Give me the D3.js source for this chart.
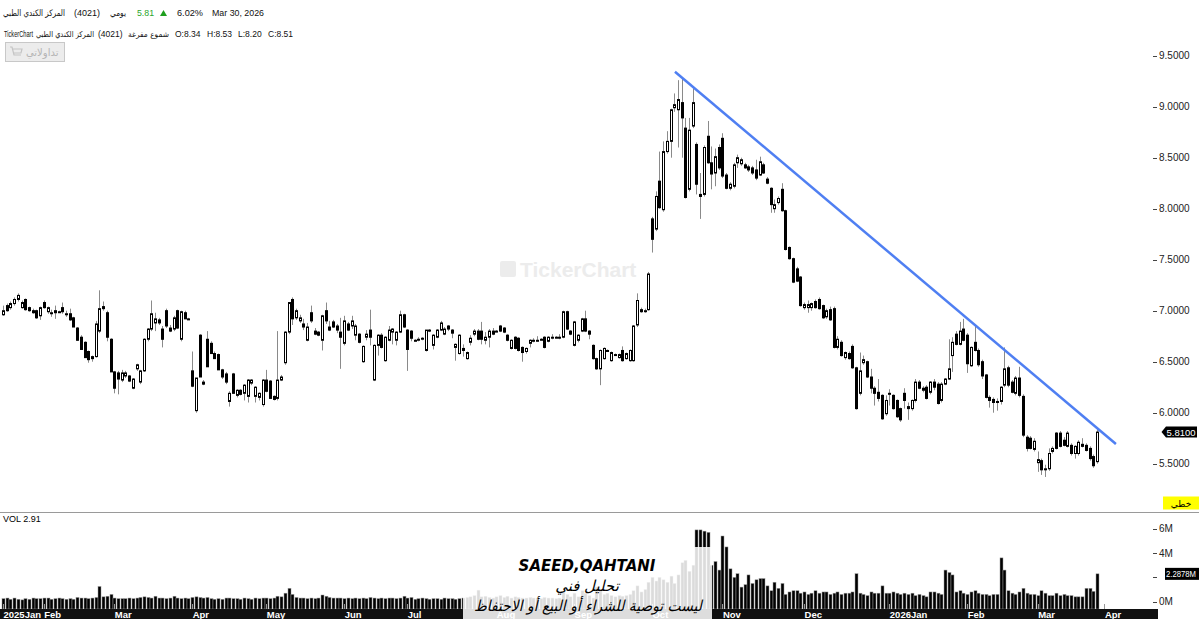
<!DOCTYPE html>
<html>
<head>
<meta charset="utf-8">
<script src="https://cdn.jsdelivr.net/npm/d3@7"></script>
<style>
  body { margin: 0; background: #fff; }
  svg { display: block; font-family: "Liberation Sans", "DejaVu Sans", sans-serif; }
</style>
</head>
<body>
<div id="chart"></div>
<script>
// daily candles, [open, high, low, close]
var candles = [
[6.96,7.05,6.95,7.00],[7.05,7.07,6.99,7.00],[7.03,7.09,7.01,7.07],[7.07,7.13,7.05,7.11],[7.11,7.17,7.09,7.15],
[7.03,7.10,7.02,7.08],[7.11,7.12,7.00,7.01],[7.03,7.04,6.99,7.00],[7.00,7.02,6.97,6.98],[7.00,7.01,6.92,6.93],
[6.95,7.04,6.91,7.03],[7.08,7.10,7.02,7.03],[6.99,7.04,6.97,7.03],[6.98,7.01,6.94,6.98],[7.00,7.05,6.92,6.98],
[6.99,7.00,6.98,6.99],[7.03,7.08,6.97,6.99],[6.97,7.00,6.94,6.97],[6.97,7.02,6.90,6.91],[6.93,6.94,6.84,6.84],
[6.83,6.84,6.71,6.71],[6.74,6.76,6.62,6.62],[6.69,6.70,6.54,6.54],[6.60,6.61,6.49,6.52],[6.53,6.56,6.50,6.55],
[6.55,6.90,6.54,6.87],[6.80,7.20,6.78,7.02],[7.04,7.09,7.00,7.02],[6.98,7.00,6.70,6.74],[6.72,6.73,6.40,6.40],
[6.40,6.41,6.19,6.24],[6.39,6.41,6.18,6.33],[6.32,6.42,6.30,6.39],[6.36,6.41,6.34,6.39],[6.36,6.37,6.30,6.31],
[6.24,6.34,6.23,6.33],[6.43,6.48,6.41,6.47],[6.30,6.42,6.28,6.41],[6.41,6.73,6.40,6.72],[6.72,6.83,6.70,6.82],
[6.82,7.10,6.80,6.97],[6.88,6.98,6.80,6.92],[6.91,6.93,6.86,6.88],[6.82,6.85,6.64,6.72],[7.00,7.02,6.83,6.85],
[6.83,6.86,6.79,6.80],[6.82,6.95,6.80,6.93],[7.00,7.01,6.82,6.83],[6.72,7.00,6.70,6.99],[6.98,7.00,6.92,6.92],
[6.92,6.93,6.91,6.92],[6.41,6.60,6.25,6.26],[6.02,6.34,6.00,6.34],[6.76,6.77,6.35,6.35],[6.30,6.32,6.27,6.28],
[6.72,6.80,6.45,6.45],[6.68,6.70,6.58,6.58],[6.58,6.60,6.53,6.53],[6.57,6.58,6.42,6.42],[6.42,6.43,6.33,6.35],
[6.38,6.40,6.28,6.30],[6.11,6.21,6.06,6.19],[6.38,6.39,6.19,6.19],[6.17,6.23,6.15,6.22],[6.22,6.23,6.17,6.18],
[6.19,6.28,6.12,6.27],[6.16,6.33,6.10,6.32],[6.29,6.33,6.27,6.32],[6.16,6.26,6.10,6.25],[6.15,6.20,6.12,6.19],
[6.08,6.33,6.06,6.32],[6.32,6.42,6.20,6.21],[6.31,6.32,6.14,6.14],[6.16,6.17,6.12,6.13],[6.14,6.80,6.12,6.32],
[6.32,6.37,6.31,6.35],[6.49,6.80,6.47,6.79],[6.79,7.08,6.77,7.08],[7.11,7.13,6.86,6.92],[6.93,7.02,6.91,7.00],
[6.90,6.96,6.88,6.93],[6.87,6.92,6.81,6.84],[6.71,6.88,6.70,6.84],[6.98,7.05,6.88,6.90],[6.80,6.83,6.76,6.77],
[6.79,6.80,6.75,6.76],[6.71,6.96,6.61,6.95],[7.00,7.08,6.87,6.90],[6.84,6.90,6.80,6.81],[6.89,6.91,6.83,6.84],
[6.85,6.87,6.78,6.81],[6.79,6.93,6.43,6.74],[6.68,6.95,6.66,6.90],[6.87,6.89,6.80,6.81],[6.85,6.95,6.82,6.90],
[6.76,6.87,6.71,6.85],[6.77,6.78,6.68,6.69],[6.50,6.66,6.49,6.65],[6.74,6.81,6.71,6.77],[6.81,7.01,6.66,6.74],
[6.32,6.67,6.31,6.66],[6.66,6.77,6.56,6.76],[6.76,6.78,6.63,6.64],[6.51,6.75,6.50,6.74],[6.71,6.85,6.70,6.81],
[6.79,6.83,6.67,6.82],[6.71,6.80,6.66,6.79],[6.79,7.00,6.78,6.96],[6.96,6.97,6.83,6.84],[6.81,6.82,6.41,6.62],
[6.80,6.81,6.70,6.73],[6.71,6.72,6.70,6.71],[6.72,6.74,6.70,6.72],[6.73,6.74,6.71,6.73],[6.61,6.81,6.60,6.81],
[6.81,6.82,6.79,6.80],[6.66,6.77,6.62,6.76],[6.74,6.82,6.73,6.81],[6.81,6.90,6.80,6.88],[6.77,6.84,6.76,6.82],
[6.85,6.86,6.80,6.82],[6.81,6.82,6.73,6.78],[6.64,6.68,6.51,6.67],[6.58,6.77,6.57,6.76],[6.63,6.67,6.55,6.61],
[6.53,6.60,6.52,6.59],[6.69,6.76,6.66,6.73],[6.77,6.82,6.75,6.80],[6.80,6.82,6.71,6.72],[6.80,6.89,6.67,6.72],
[6.71,6.79,6.67,6.74],[6.74,6.82,6.64,6.80],[6.80,6.83,6.76,6.77],[6.80,6.81,6.79,6.80],[6.85,6.86,6.79,6.80],
[6.83,6.84,6.78,6.79],[6.76,6.77,6.70,6.71],[6.63,6.72,6.62,6.71],[6.74,6.75,6.62,6.63],[6.73,6.74,6.60,6.61],
[6.64,6.65,6.50,6.59],[6.60,6.64,6.58,6.63],[6.68,6.72,6.64,6.71],[6.71,6.73,6.69,6.71],[6.71,6.75,6.70,6.71],
[6.72,6.73,6.71,6.72],[6.74,6.75,6.63,6.64],[6.70,6.75,6.69,6.74],[6.74,6.77,6.72,6.74],[6.74,6.75,6.73,6.74],
[6.74,6.77,6.72,6.74],[6.74,7.00,6.73,6.99],[6.99,7.00,6.81,6.82],[6.80,6.81,6.76,6.77],[6.66,6.90,6.65,6.89],
[6.71,6.77,6.69,6.76],[6.80,6.93,6.79,6.92],[6.92,7.00,6.79,6.80],[6.80,6.81,6.72,6.77],[6.66,6.67,6.52,6.53],
[6.53,6.54,6.42,6.43],[6.43,6.62,6.27,6.61],[6.53,6.64,6.52,6.63],[6.61,6.62,6.60,6.61],[6.51,6.60,6.50,6.59],
[6.57,6.58,6.56,6.57],[6.54,6.58,6.53,6.57],[6.61,6.65,6.50,6.51],[6.53,6.59,6.52,6.58],[6.51,6.62,6.50,6.61],
[6.51,6.86,6.50,6.85],[6.86,7.17,6.84,7.10],[7.01,7.03,6.98,6.99],[7.00,7.02,6.98,7.00],[7.01,7.38,7.00,7.36],
[7.90,7.92,7.57,7.70],[7.80,8.17,7.78,8.12],[8.27,8.56,8.00,8.01],[7.99,8.66,7.97,8.56],[8.56,8.76,8.54,8.66],
[8.66,8.98,8.50,8.97],[8.99,9.13,8.95,9.02],[8.97,9.26,8.60,9.07],[9.04,9.28,8.50,8.89],[8.79,8.89,8.10,8.11],
[8.19,8.89,8.17,8.77],[8.81,9.18,8.79,9.04],[8.63,8.65,8.14,8.24],[8.14,8.35,7.90,8.12],[8.14,8.62,8.12,8.60],
[8.71,8.86,8.44,8.45],[8.45,8.61,8.19,8.34],[8.35,8.59,8.22,8.51],[8.60,8.63,8.38,8.40],[8.69,8.74,8.30,8.32],
[8.33,8.35,8.19,8.20],[8.20,8.26,8.18,8.24],[8.22,8.45,8.20,8.43],[8.45,8.53,8.40,8.50],[8.44,8.50,8.42,8.48],
[8.43,8.45,8.39,8.40],[8.41,8.43,8.36,8.38],[8.40,8.42,8.33,8.35],[8.38,8.48,8.28,8.30],[8.33,8.51,8.32,8.46],
[8.43,8.45,8.34,8.35],[8.29,8.31,8.24,8.25],[8.20,8.21,7.96,8.04],[8.00,8.09,7.96,8.04],[8.06,8.12,8.04,8.10],
[8.19,8.25,7.97,7.98],[7.98,7.99,7.59,7.60],[7.62,7.63,7.50,7.51],[7.51,7.52,7.27,7.28],[7.41,7.43,7.28,7.29],
[7.33,7.34,7.04,7.05],[7.03,7.08,7.01,7.06],[7.03,7.10,6.98,7.06],[7.03,7.08,7.00,7.07],[7.09,7.11,7.02,7.03],
[7.11,7.13,7.01,7.02],[7.05,7.06,6.92,6.93],[6.94,7.02,6.92,7.00],[7.01,7.04,6.90,6.91],[7.02,7.04,6.63,6.64],
[6.64,6.75,6.62,6.72],[6.69,6.71,6.55,6.56],[6.54,6.60,6.52,6.59],[6.58,6.60,6.52,6.53],[6.65,6.67,6.43,6.44],
[6.44,6.45,6.03,6.04],[6.19,6.59,6.17,6.41],[6.49,6.56,6.47,6.52],[6.50,6.51,6.34,6.35],[6.35,6.43,6.19,6.24],
[6.24,6.26,6.07,6.19],[6.20,6.33,6.11,6.14],[6.17,6.18,5.93,5.94],[5.99,6.17,5.97,6.12],[6.19,6.23,6.07,6.19],
[6.17,6.18,6.03,6.04],[6.12,6.13,5.95,5.96],[6.04,6.05,5.91,5.93],[6.19,6.24,6.04,6.12],[6.04,6.10,5.93,6.06],
[6.04,6.13,6.02,6.12],[6.12,6.33,6.10,6.30],[6.30,6.32,6.23,6.24],[6.22,6.26,6.20,6.24],[6.25,6.27,6.13,6.14],
[6.20,6.31,6.18,6.30],[6.30,6.33,6.22,6.25],[6.28,6.30,6.08,6.09],[6.12,6.30,6.10,6.28],[6.28,6.34,6.27,6.33],
[6.33,6.72,6.32,6.43],[6.56,6.74,6.40,6.69],[6.77,6.80,6.66,6.67],[6.67,6.89,6.66,6.80],[6.82,6.92,6.70,6.71],
[6.76,6.78,6.39,6.48],[6.46,6.65,6.45,6.64],[6.69,6.85,6.60,6.61],[6.61,6.63,6.45,6.47],[6.50,6.52,6.33,6.36],
[6.37,6.38,6.14,6.15],[6.15,6.17,6.05,6.12],[6.13,6.15,6.00,6.10],[6.10,6.14,6.02,6.11],[6.11,6.26,6.08,6.25],
[6.27,6.64,6.25,6.43],[6.44,6.46,6.25,6.27],[6.30,6.32,6.19,6.20],[6.19,6.36,6.17,6.34],[6.34,6.45,6.15,6.17],
[6.16,6.18,5.76,5.78],[5.76,5.78,5.62,5.65],[5.75,5.77,5.64,5.65],[5.64,5.75,5.62,5.72],[5.51,5.62,5.42,5.54],
[5.53,5.55,5.39,5.44],[5.44,5.49,5.37,5.45],[5.45,5.65,5.43,5.60],[5.62,5.67,5.60,5.65],[5.80,5.81,5.64,5.65],
[5.80,5.82,5.66,5.67],[5.73,5.76,5.67,5.68],[5.67,5.82,5.66,5.80],[5.68,5.70,5.58,5.60],[5.60,5.68,5.55,5.67],
[5.60,5.73,5.58,5.71],[5.69,5.75,5.66,5.67],[5.68,5.70,5.62,5.63],[5.65,5.67,5.53,5.55],[5.57,5.59,5.46,5.48],
[5.52,5.84,5.50,5.81]
];

// daily volume, millions of shares
var volume = [
0.25,0.30,0.20,0.30,0.20,0.15,0.25,0.20,0.30,0.25,
0.25,0.30,0.30,0.20,0.25,0.30,0.25,0.20,0.25,0.20,
0.35,0.30,0.30,0.25,0.30,0.35,1.25,0.40,0.45,0.60,
0.30,0.25,0.25,0.25,0.30,0.25,0.30,0.35,0.40,0.35,
0.30,0.45,0.30,0.30,0.25,0.30,0.45,0.30,0.25,0.30,
0.25,0.35,0.40,0.35,0.30,0.35,0.25,0.20,0.25,0.20,
0.30,0.30,0.25,0.25,0.20,0.30,0.25,0.20,0.30,0.25,
0.30,0.30,0.25,0.30,0.45,0.40,0.70,1.10,0.60,0.35,
0.30,0.30,0.25,0.30,0.25,0.30,0.55,0.45,0.35,0.30,
0.30,0.30,0.25,0.30,0.25,0.30,0.25,0.30,0.25,0.35,
0.30,0.25,0.30,0.25,0.30,0.30,0.25,0.30,0.45,0.30,
0.35,0.20,0.25,0.30,0.25,0.20,0.25,0.25,0.20,0.30,
0.25,0.25,0.20,0.25,0.30,0.35,0.40,0.50,0.95,0.40,
0.45,0.35,0.30,0.40,0.50,0.35,0.45,0.30,0.40,0.35,
0.30,0.30,0.35,0.30,0.30,0.25,0.35,0.30,0.30,0.25,
0.30,0.80,0.60,0.40,0.70,0.40,0.90,0.70,0.50,0.30,
1.20,0.90,0.60,0.70,0.50,0.40,0.50,0.45,0.50,0.60,
0.90,1.30,0.80,1.00,1.60,2.00,1.70,2.00,1.80,1.60,
2.10,1.50,2.20,3.20,3.40,2.50,3.00,5.90,5.90,5.80,
5.70,3.00,3.30,2.60,5.40,4.50,2.70,2.00,2.30,1.20,
1.40,2.20,1.50,1.80,1.90,1.90,1.30,0.90,1.60,1.10,
1.50,0.60,0.80,0.90,0.90,0.70,0.80,0.60,0.70,0.90,
0.70,0.80,0.80,0.60,0.70,0.80,0.60,0.70,0.70,0.80,
2.30,0.70,0.60,0.50,0.80,0.70,0.70,1.30,0.70,0.70,
0.80,0.70,0.60,0.70,0.60,0.70,0.50,0.60,0.50,0.40,
0.80,0.80,0.70,0.60,2.60,2.40,2.20,0.80,0.90,0.70,
0.60,0.80,0.90,0.70,0.60,0.60,0.50,0.60,0.60,3.60,
2.60,0.90,0.70,0.60,0.80,1.10,0.70,0.60,0.60,0.50,
0.90,0.70,0.50,0.50,0.70,0.50,0.60,0.50,0.50,0.40,
0.40,0.40,1.10,1.10,0.85,2.29
];

var monthLabels = ["2025Jan","Feb","Mar","Apr","May","Jun","Jul","Aug","Sep","Oct","Nov","Dec","2026Jan","Feb","Mar","Apr"];
var monthIdx = [0, 11, 30, 51, 71, 92, 109, 133, 154, 175, 194, 216, 239, 260, 279, 297];

var priceTicks = [5.5, 6.0, 6.5, 7.0, 7.5, 8.0, 8.5, 9.0, 9.5];
var volTicks = [0, 2, 4, 6];

// hand drawn trend line: [bar index, price] at both ends
var trendIdx = [181.2, 300.1];
var trendPrice = [9.343, 5.693];

var lastClose = 5.81, lastVolume = 2.2878;

var width = 1199, height = 619;

var svg = d3.select("#chart")
  .append("svg")
  .attr("width", width)
  .attr("height", height);

var x = d3.scaleLinear().domain([0, candles.length - 1]).range([3, 1097]);
var y = d3.scaleLinear().domain([5.5, 9.5]).range([463.7, 55.7]);
var yv = d3.scaleLinear().domain([0, 6]).range([601.7, 528.7]);
var volBottom = 609;

// put a text at x; squeeze it to width w if it is wider
function label(parent, str, px, py, w, size, font) {
  var t = parent.append("text").attr("x", px).attr("y", py).attr("font-size", size).text(str);
  if (font) t.attr("font-family", font);
  if (w && t.node().getComputedTextLength() > w) {
    t.attr("textLength", w).attr("lengthAdjust", "spacingAndGlyphs");
  }
  return t;
}

// watermark
var wm = svg.append("g").attr("fill", "#ececec");
wm.append("rect").attr("x", 500).attr("y", 261).attr("width", 16).attr("height", 16).attr("rx", 2);
wm.append("text").attr("x", 520).attr("y", 277)
  .attr("font-size", 21).attr("font-weight", "bold")
  .text("TickerChart");

// candles
var g = svg.append("g");
g.selectAll("line.wick")
  .data(candles)
  .enter()
  .append("line")
  .attr("x1", function(d, i) { return Math.round(x(i)) + 0.5; })
  .attr("x2", function(d, i) { return Math.round(x(i)) + 0.5; })
  .attr("y1", function(d) { return y(d[1]); })
  .attr("y2", function(d) { return y(d[2]); })
  .attr("stroke", "#8a8a8a")
  .attr("stroke-width", 1);

g.selectAll("rect.body")
  .data(candles)
  .enter()
  .append("rect")
  .attr("x", function(d, i) { return Math.round(x(i)) - 0.5; })
  .attr("width", 2)
  .attr("y", function(d) { return y(Math.max(d[0], d[3])); })
  .attr("height", function(d) { return Math.max(1, Math.abs(y(d[0]) - y(d[3]))); })
  .attr("fill", function(d) { return d[3] >= d[0] ? "#fff" : "#000"; })
  .attr("stroke", "#000")
  .attr("stroke-width", 1);

// trend line
svg.append("line")
  .attr("x1", x(trendIdx[0])).attr("y1", y(trendPrice[0]))
  .attr("x2", x(trendIdx[1])).attr("y2", y(trendPrice[1]))
  .attr("stroke", "#4f7ff2")
  .attr("stroke-width", 2.5);

// price axis labels
var pa = svg.append("g").attr("font-size", 10).attr("fill", "#222");
priceTicks.forEach(function(t) {
  pa.append("line").attr("x1", 1153).attr("x2", 1157)
    .attr("y1", Math.round(y(t)) + 0.5).attr("y2", Math.round(y(t)) + 0.5)
    .attr("stroke", "#444");
  pa.append("text").attr("x", 1159).attr("y", y(t) + 3.5).text(t.toFixed(4));
});

// last price marker
var ly = y(lastClose);
svg.append("path")
  .attr("d", "M1161.5," + ly + " L1166," + (ly - 5.5) + " L1197," + (ly - 5.5) + " L1197," + (ly + 5.5) + " L1166," + (ly + 5.5) + " Z")
  .attr("fill", "#000");
label(svg, lastClose.toFixed(4), 1166.5, ly + 3.5, 29, 9.5).attr("fill", "#fff");

// yellow chart type box
svg.append("rect").attr("x", 1163).attr("y", 496.5).attr("width", 36).attr("height", 13).attr("fill", "#ffff00");
svg.append("text").attr("x", 1181).attr("y", 506.5).attr("text-anchor", "middle")
  .attr("font-family", "DejaVu Sans").attr("font-size", 9).attr("fill", "#000").text("خطي");

// pane separator
svg.append("line").attr("x1", 0).attr("x2", width).attr("y1", 512.5).attr("y2", 512.5)
  .attr("stroke", "#9a9a9a").attr("stroke-width", 1);

svg.append("text").attr("x", 3).attr("y", 522).attr("font-size", 9).attr("fill", "#000").text("VOL  2.91");

// volume bars
svg.append("g").selectAll("rect")
  .data(volume)
  .enter()
  .append("rect")
  .attr("x", function(d, i) { return Math.round(x(i)) - 1; })
  .attr("width", 3)
  .attr("y", function(d) { return yv(d); })
  .attr("height", function(d) { return volBottom - yv(d); })
  .attr("fill", "#000")
  .attr("stroke", "#9a9a9a")
  .attr("stroke-width", 0.5);

// volume axis (the 2M label sits under the last-volume box, only its tick shows)
var va = svg.append("g").attr("font-size", 10).attr("fill", "#222");
volTicks.forEach(function(t) {
  va.append("line").attr("x1", 1153).attr("x2", 1157)
    .attr("y1", Math.round(yv(t)) + 0.5).attr("y2", Math.round(yv(t)) + 0.5)
    .attr("stroke", "#444");
  if (Math.abs(yv(t) - yv(lastVolume)) > 10) {
    va.append("text").attr("x", 1159).attr("y", yv(t) + 3.5).text(t + "M");
  }
});
svg.append("rect").attr("x", 1165).attr("y", yv(lastVolume) - 6).attr("width", 34).attr("height", 12).attr("fill", "#000");
label(svg, lastVolume.toFixed(4) + "M", 1166, yv(lastVolume) + 3.5, 30, 9.5).attr("fill", "#fff");

// time axis band
svg.append("rect").attr("x", 0).attr("y", 609).attr("width", 1158).attr("height", 10).attr("fill", "#111");
var ta = svg.append("g").attr("font-size", 9.5).attr("fill", "#fff").attr("font-weight", "bold");
monthLabels.forEach(function(m, k) {
  var mx = x(monthIdx[k]);
  svg.append("line").attr("x1", Math.round(mx) + 0.5).attr("x2", Math.round(mx) + 0.5)
    .attr("y1", 604).attr("y2", 609).attr("stroke", "#999");
  ta.append("text").attr("x", mx + 0.5).attr("y", 618).text(m);
});

// analyst stamp over the volume pane
svg.append("rect").attr("x", 463).attr("y", 547).attr("width", 249).attr("height", 72)
  .attr("fill", "#fff").attr("opacity", 0.86);
var st = svg.append("g").attr("fill", "#000").attr("font-family", "DejaVu Sans")
  .attr("font-style", "italic").attr("text-anchor", "middle");
st.append("text").attr("x", 587).attr("y", 571).attr("font-size", 15).attr("font-weight", "bold").text("SAEED,QAHTANI");
st.append("text").attr("x", 587).attr("y", 591).attr("font-size", 15).text("تحليل فني");
label(st, "ليست توصية للشراء أو البيع أو الاحتفاظ", 588, 611, 228, 15);

// header, first line
var hd = svg.append("g").attr("fill", "#111");
label(hd, "المركز الكندي الطبي", 3, 16, 62, 9, "DejaVu Sans");
label(hd, "(4021)", 74, 16, 26, 9.5);
label(hd, "يومي", 110, 16, 16, 9, "DejaVu Sans");
label(hd, "5.81", 137, 16, 17, 9.5).attr("fill", "#2aa52a");
hd.append("path").attr("d", "M160,16 L163.5,10 L167,16 Z").attr("fill", "#1f9f1f");
label(hd, "6.02%", 177, 16, 26, 9.5);
label(hd, "Mar 30, 2026", 212, 16, 52, 9.5);

// header, second line
var h2 = svg.append("g").attr("fill", "#111");
label(h2, "TickerChart", 4, 37, 29, 8.5);
label(h2, "المركز الكندي الطبي", 36, 37, 58, 8, "DejaVu Sans");
label(h2, "(4021)", 98, 37, 25, 8.5);
label(h2, "شموع مفرغة", 128, 37, 41, 8, "DejaVu Sans");
label(h2, "O:8.34", 175, 37, 27, 8.5);
label(h2, "H:8.53", 207, 37, 26, 8.5);
label(h2, "L:8.20", 238, 37, 24, 8.5);
label(h2, "C:8.51", 268, 37, 25, 8.5);

// trading button
var bt = svg.append("g");
bt.append("rect").attr("x", 5.5).attr("y", 42.5).attr("width", 59).attr("height", 19)
  .attr("fill", "#ececec").attr("stroke", "#c8c8c8");
bt.append("path").attr("d", "M10,47 L12,47 L14,55 L21,55 M13,49 L22,49 L21,53 L14,53")
  .attr("fill", "none").attr("stroke", "#c4c4c4").attr("stroke-width", 1.2);
label(bt, "تداولاتي", 26, 56, 34, 10, "DejaVu Sans").attr("fill", "#b4b4b4");
</script>
</body>
</html>
